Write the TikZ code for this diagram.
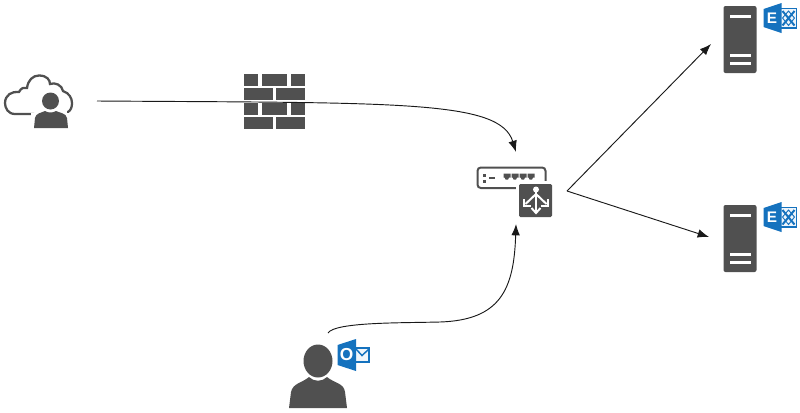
\documentclass[tikz,border=0pt]{standalone}
\usepackage{fontspec}
\setmainfont{Liberation Sans}
\usetikzlibrary{arrows.meta}
\definecolor{icon}{HTML}{505050}
\definecolor{msblue}{HTML}{1572BE}
\definecolor{mslight}{HTML}{D5E6F5}
\newcommand{\exlogo}[2]{%
  \begin{scope}[shift={(#1,#2)}]
    \draw[msblue,line width=1.1pt,fill=mslight!40] (16,5.5) rectangle (33,25);
    \draw[msblue,line width=1.5pt] (19,8) -- (31,22.5) (31,8) -- (19,22.5);
    \draw[msblue,line width=0.7pt] (25,8) -- (31,15) -- (25,22.5) -- (19,15) -- cycle;
    \fill[msblue] (0,6) -- (18,0) -- (18,30) -- (0,24) -- cycle;
    \node[logoletter,font=\bfseries\fontsize{11.5}{11.5}\selectfont] at (8.5,15) {E};
  \end{scope}}
\newcommand{\srvicon}[2]{%
  \begin{scope}[shift={(#1,#2)}]
    \fill[icon,rounded corners=1.5pt] (0,0) rectangle (33,67);
    \fill[white] (6.5,9) rectangle (27.5,11.5);
    \fill[white] (6.5,48) rectangle (27.5,50.5);
    \fill[white] (6.5,56) rectangle (27.5,58.5);
  \end{scope}}
\newcommand{\brickrow}[1]{%
  \fill[icon] (244,#1) rectangle ++(14,11.5);
  \fill[icon] (262,#1) rectangle ++(25,11.5);
  \fill[icon] (291,#1) rectangle ++(14,11.5);}
\newcommand{\wallrow}[1]{%
  \fill[icon] (244,#1) rectangle ++(29,11.5);
  \fill[icon] (276,#1) rectangle ++(29,11.5);}
\tikzset{
  anchorbox/.style={inner sep=0pt,outer sep=0pt,draw=none,fill=none},
  logoletter/.style={text=white,inner sep=0pt},
  conn/.style={draw=black!90,line width=0.7pt,-{Latex[length=8.5pt,width=6.5pt]}}
}
\begin{document}
\begin{tikzpicture}[x=0.75pt,y=-0.75pt]
\useasboundingbox (0,0) rectangle (800,412);
% anchors of icons
\node[anchorbox,minimum width=94*0.75pt,minimum height=54*0.75pt] (cloud) at (50,101) {};
\node[anchorbox,minimum width=102*0.75pt,minimum height=72*0.75pt] (lb) at (516,188) {};
\node[anchorbox,minimum width=58*0.75pt,minimum height=67*0.75pt] (srvA) at (740,44) {};
\node[anchorbox,minimum width=58*0.75pt,minimum height=67*0.75pt] (srvB) at (738,237) {};
\node[anchorbox,minimum width=58*0.75pt,minimum height=84*0.75pt] (user) at (328,375) {};
\coordinate (lbout) at (567,191);
% cloud user
\draw[icon,line width=1.7pt,line cap=round]
  (34,114) -- (15,114) .. controls (8,114) and (5,108) .. (5,103)
  .. controls (5,95) and (12,91) .. (19,92)
  .. controls (21,88) and (24,87) .. (27,88)
  .. controls (28,80) and (33,75.5) .. (39,75.5)
  .. controls (47,75.5) and (50,80) .. (50,84)
  .. controls (55,82) and (62,85) .. (63,91)
  .. controls (69,93) and (72,98) .. (72,103)
  .. controls (72,107) and (71,110) .. (68,112);
\fill[white] (50.5,101) circle (11);
\fill[white] (31,113) rectangle (70,130);
\fill[icon] (50.5,101) circle (8.5);
\fill[icon] (34,128) -- (35,118) .. controls (36,113) and (41,113) .. (45,111)
  .. controls (48,113) and (53,113) .. (56,111)
  .. controls (60,113) and (66,113) .. (67,118) -- (68,128) -- cycle;
% firewall
\brickrow{74}
\wallrow{88}
\brickrow{103}
\wallrow{117}
% appliance with balancer badge
\draw[icon,line width=1.5pt,rounded corners=2.5pt]
  (519,188) -- (477.5,188) -- (477.5,167.5) -- (545.5,167.5) -- (545.5,184);
\fill[icon] (483,174) rectangle (485.5,176.5);
\fill[icon] (483,180) rectangle (485.5,182.5);
\fill[icon] (488.5,177) rectangle (495,179);
\foreach \px in {503.5,511.5,519.5,527.5}{
  \fill[icon] (\px,173.5) -- ++(7,0) -- ++(0,4) -- ++(-1.5,0) -- ++(-1,2) -- ++(-2.5,0) -- ++(-1,-2) -- ++(-1,0) -- cycle;
}
\fill[white] (516,181) rectangle (555,220);
\fill[icon,rounded corners=1pt] (519,184) rectangle (552,217);
\begin{scope}[white,line width=1.5pt]
  \fill (536,189.5) circle (3);
  \draw (536,190) -- (536,212);
  \draw (536,194) -- (525.5,204) (536,194) -- (546.5,204);
  \draw (524,199) -- (524,205.5) -- (531,205.5);
  \draw (548,199) -- (548,205.5) -- (541,205.5);
  \draw (531.5,208) -- (536,213) -- (540.5,208);
\end{scope}
% servers
\srvicon{723.5}{6}
\exlogo{763.5}{3}
\srvicon{723.5}{205}
\exlogo{763.5}{202}
% user with outlook
\fill[icon] (318,361) ellipse (14.5 and 16.5);
\fill[icon] (289,408) -- (291,392) .. controls (293,383) and (302,383) .. (309,377)
  .. controls (314,382) and (322,382) .. (327,377)
  .. controls (334,383) and (344,383) .. (345,392) -- (347,408) -- cycle;
\draw[msblue,line width=1.1pt,fill=mslight!35] (354,348) rectangle (369,362);
\draw[msblue,line width=1.1pt] (356,349) -- (362,355.5) -- (369,349);
\fill[msblue] (337.5,345) -- (356,339) -- (356,371) -- (337.5,365) -- cycle;
\node[logoletter,font=\bfseries\fontsize{13}{13}\selectfont] at (346.5,355) {O};
% connectors
\draw[conn] (cloud.east) .. controls (400,103) and (500,100) .. (lb.north);
\draw[conn] (user.north) .. controls (335,322) and (400,323) .. (440,322)
  .. controls (500,320) and (514,290) .. (lb.south);
\draw[conn] (lbout) -- (srvA.west);
\draw[conn] (lbout) -- (srvB.west);
\end{tikzpicture}
\end{document}
